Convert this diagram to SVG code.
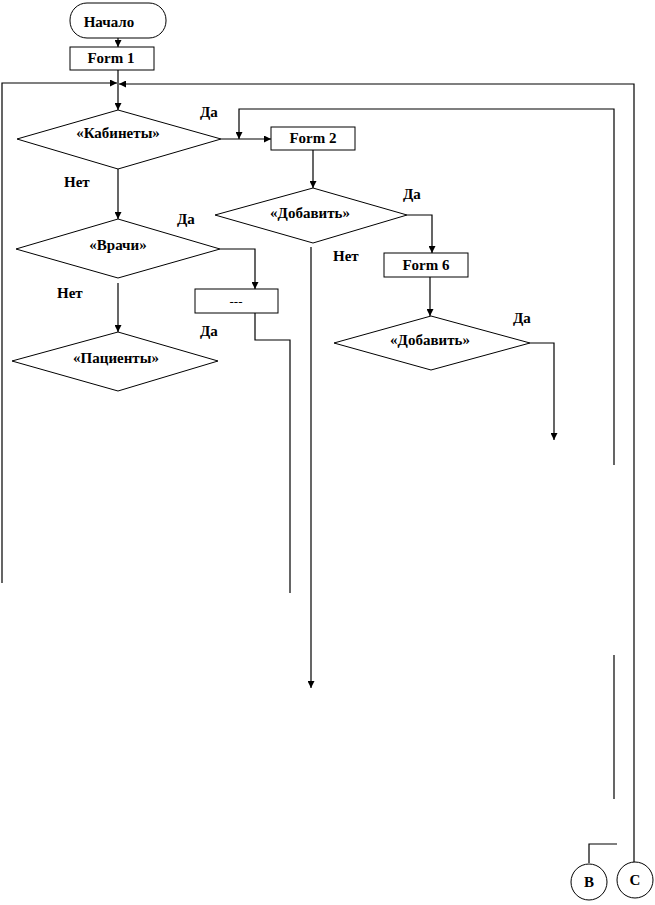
<svg xmlns="http://www.w3.org/2000/svg" width="655" height="905" viewBox="0 0 655 905">
<style>
.shape{fill:#fff;stroke:#000;stroke-width:1}
.ln{fill:none;stroke:#000;stroke-width:1.2}
.t{font-family:"Liberation Serif","Times New Roman",serif;font-weight:bold;font-size:15px;fill:#000;text-anchor:middle}
.lbl{font-family:"Liberation Serif","Times New Roman",serif;font-weight:bold;font-size:15px;fill:#000}
.thin{font-family:"Liberation Serif","Times New Roman",serif;font-size:13px;fill:#000;text-anchor:middle}
</style>
<defs>
<marker id="arr" viewBox="0 0 8 8" refX="8" refY="4" markerWidth="7" markerHeight="7" markerUnits="userSpaceOnUse" orient="auto">
<path d="M0,0 L8,4 L0,8 z" fill="#000"/>
</marker>
</defs>
<rect width="655" height="905" fill="#fff"/>
<g id="connectors">
<path class="ln" d="M118,38 V47" marker-end="url(#arr)"/>
<path class="ln" d="M118,70 V110" marker-end="url(#arr)"/>
<path class="ln" d="M2,583 V83 H117" marker-end="url(#arr)"/>
<path class="ln" d="M634,862 V84 H119" marker-end="url(#arr)"/>
<path class="ln" d="M221,139 H271" marker-end="url(#arr)"/>
<path class="ln" d="M614,465 V109 H239 V139" marker-end="url(#arr)"/>
<path class="ln" d="M313,150 V188" marker-end="url(#arr)"/>
<path class="ln" d="M407,215 H432 V253" marker-end="url(#arr)"/>
<path class="ln" d="M430,277 V316" marker-end="url(#arr)"/>
<path class="ln" d="M530,343 H554 V440" marker-end="url(#arr)"/>
<path class="ln" d="M311,247 V688" marker-end="url(#arr)"/>
<path class="ln" d="M118,169 V219" marker-end="url(#arr)"/>
<path class="ln" d="M220,249 H255 V289" marker-end="url(#arr)"/>
<path class="ln" d="M255,313 V340 H290 V593"/>
<path class="ln" d="M118,283 V332" marker-end="url(#arr)"/>
<path class="ln" d="M614,655 V799"/>
<path class="ln" d="M589,863 V844 H617"/>
</g>
<g id="start">
<rect class="shape" x="70" y="3" width="96" height="35" rx="17" ry="17"/>
<text class="t" x="109" y="27">Начало</text>
</g>
<g id="form1">
<rect class="shape" x="70" y="47" width="84" height="23"/>
<text class="t" x="111" y="63">Form 1</text>
</g>
<g id="kabinety">
<polygon class="shape" points="118,110 221,139 118,169 17,139"/>
<text class="t" x="118" y="138">«Кабинеты»</text>
</g>
<g id="form2">
<rect class="shape" x="271" y="127" width="84" height="23"/>
<text class="t" x="313" y="143">Form 2</text>
</g>
<g id="dobavit1">
<polygon class="shape" points="313,188 407,215 313,243 215,215"/>
<text class="t" x="310" y="218">«Добавить»</text>
</g>
<g id="form6">
<rect class="shape" x="384" y="253" width="84" height="24"/>
<text class="t" x="426" y="270">Form 6</text>
</g>
<g id="vrachi">
<polygon class="shape" points="118,219 220,249 118,278 16,249"/>
<text class="t" x="118" y="250">«Врачи»</text>
</g>
<g id="dots">
<rect class="shape" x="195" y="289" width="83" height="24"/>
<text class="thin" x="236" y="306">---</text>
</g>
<g id="pacienty">
<polygon class="shape" points="118,332 218,361 118,391 12,361"/>
<text class="t" x="116" y="363">«Пациенты»</text>
</g>
<g id="dobavit2">
<polygon class="shape" points="431,316 530,343 431,370 334,343"/>
<text class="t" x="430" y="345">«Добавить»</text>
</g>
<g id="connB">
<circle class="shape" cx="589" cy="882" r="18"/>
<text class="t" x="589" y="887">B</text>
</g>
<g id="connC">
<circle class="shape" cx="635" cy="880" r="18"/>
<text class="t" x="635" y="885">C</text>
</g>
<g id="labels">
<text class="lbl" x="200" y="117">Да</text>
<text class="lbl" x="64" y="187">Нет</text>
<text class="lbl" x="177" y="224">Да</text>
<text class="lbl" x="57" y="298">Нет</text>
<text class="lbl" x="200" y="336">Да</text>
<text class="lbl" x="403" y="199">Да</text>
<text class="lbl" x="333" y="261">Нет</text>
<text class="lbl" x="513" y="323">Да</text>
</g>
</svg>
